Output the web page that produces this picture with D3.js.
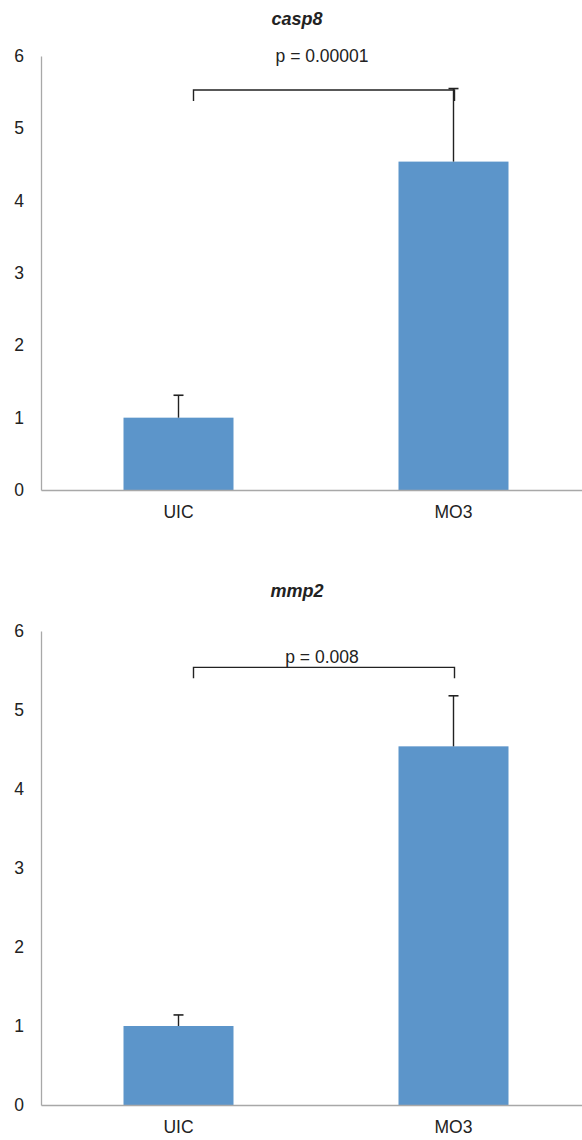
<!DOCTYPE html>
<html><head><meta charset="utf-8">
<script src="https://cdn.jsdelivr.net/npm/d3@7"></script>
<style>body{margin:0;background:#fff}svg{display:block}text{font-family:"Liberation Sans",Arial,sans-serif}</style>
</head><body>
<script>
const categories = ["UIC", "MO3"];
const titles = ["casp8", "mmp2"];
const casp8Values = [1.0, 4.54];
const casp8Errors = [0.31, 1.01];
const mmp2Values = [1.0, 4.54];
const mmp2Errors = [0.14, 0.64];
const pLabels = ["p = 0.00001", "p = 0.008"];
const bracketLevels = [5.53, 5.54];
const yTicks = [0, 1, 2, 3, 4, 5, 6];

const W = 582, H = 1140;
const svg = d3.select("body").append("svg").attr("width", W).attr("height", H);

const panels = [
  {title: titles[0], values: casp8Values, errors: casp8Errors, p: pLabels[0], br: bracketLevels[0],
   y0: 490, y1: 56, titleY: 25, pY: 62, catY: 518},
  {title: titles[1], values: mmp2Values, errors: mmp2Errors, p: pLabels[1], br: bracketLevels[1],
   y0: 1105, y1: 631, titleY: 597, pY: 663, catY: 1133}
];

const x = d3.scaleBand().domain(categories).range([41, 591]).paddingInner(0.6).paddingOuter(0.3);
const barColor = "#5c95ca";
const axisColor = "#a8a8a8";
const ink = "#222";
const fs = 17.5;

panels.forEach(p => {
  const g = svg.append("g");
  const y = d3.scaleLinear().domain([0, 6]).range([p.y0, p.y1]);

  g.append("text").attr("x", 297).attr("y", p.titleY).attr("text-anchor", "middle")
    .attr("font-size", 18).attr("font-weight", "bold").attr("font-style", "italic").attr("fill", ink)
    .text(p.title);

  const ya = d3.axisLeft(y).tickValues(yTicks).tickSize(0).tickPadding(17).tickFormat(d3.format("d"));
  const yg = g.append("g").attr("transform", "translate(41,0)").call(ya);
  yg.select(".domain").attr("stroke", axisColor).attr("stroke-width", 1.3);
  yg.selectAll("text").attr("font-size", fs).attr("fill", ink).attr("font-family", "Liberation Sans, Arial, sans-serif");

  g.selectAll("rect.bar").data(categories).join("rect")
    .attr("x", d => x(d)).attr("width", x.bandwidth())
    .attr("y", (d, i) => y(p.values[i])).attr("height", (d, i) => y(0) - y(p.values[i]))
    .attr("fill", barColor);

  categories.forEach((c, i) => {
    const cx = x(c) + x.bandwidth() / 2;
    g.append("line").attr("x1", cx).attr("x2", cx)
      .attr("y1", y(p.values[i])).attr("y2", y(p.values[i] + p.errors[i]))
      .attr("stroke", ink).attr("stroke-width", 1.4);
    g.append("line").attr("x1", cx - 5).attr("x2", cx + 5)
      .attr("y1", y(p.values[i] + p.errors[i])).attr("y2", y(p.values[i] + p.errors[i]))
      .attr("stroke", ink).attr("stroke-width", 1.6);
  });

  const xa = d3.axisBottom(x).tickSize(0).tickPadding(16);
  const xg = g.append("g").attr("transform", `translate(0,${p.y0})`).call(xa);
  xg.select(".domain").attr("stroke", axisColor).attr("stroke-width", 1.3);
  xg.selectAll("text").attr("font-size", fs).attr("fill", ink).attr("font-family", "Liberation Sans, Arial, sans-serif")
    .attr("dy", null).attr("y", p.catY - p.y0);

  const lx = x(categories[0]) + x.bandwidth() / 2 + 15;
  const rx = x(categories[1]) + x.bandwidth() / 2 + 1;
  const by = y(p.br);
  g.append("path")
    .attr("d", `M${lx},${by + 11}V${by}H${rx}V${by + 11}`)
    .attr("fill", "none").attr("stroke", ink).attr("stroke-width", 1.4);

  g.append("text").attr("x", 322).attr("y", p.pY).attr("text-anchor", "middle")
    .attr("font-size", fs).attr("fill", ink).text(p.p);
});
</script>
</body></html>
